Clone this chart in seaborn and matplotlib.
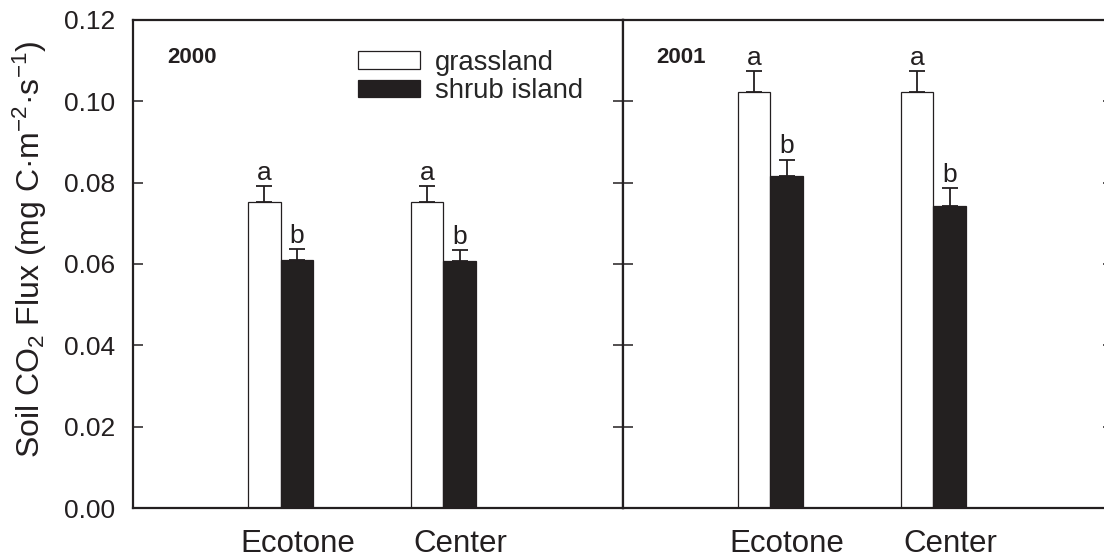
import matplotlib
matplotlib.use("Agg")
import matplotlib.pyplot as plt
from matplotlib.transforms import ScaledTranslation
import seaborn as sns
import pandas as pd

# values
sites = ["Ecotone", "Center"]
cover = ["grassland", "shrub island"]
years = ["2000", "2001"]

grass_2000 = [0.0753, 0.0753]
grass_2000_se = [0.0039, 0.0039]
shrub_2000 = [0.0610, 0.0607]
shrub_2000_se = [0.0026, 0.0027]

grass_2001 = [0.1024, 0.1024]
grass_2001_se = [0.0050, 0.0050]
shrub_2001 = [0.0817, 0.0742]
shrub_2001_se = [0.0039, 0.0045]

letters_grass = ["a", "a"]
letters_shrub = ["b", "b"]

ytick_vals = [0.00, 0.02, 0.04, 0.06, 0.08, 0.10, 0.12]

dark = "#231f20"

sns.set_style("ticks")
plt.rcParams["font.family"] = ["Liberation Sans", "DejaVu Sans"]
plt.rcParams["mathtext.fontset"] = "custom"
plt.rcParams["mathtext.rm"] = "Liberation Sans"
plt.rcParams["mathtext.it"] = "Liberation Sans:italic"
plt.rcParams["mathtext.bf"] = "Liberation Sans:bold"


def make_frame(grass, grass_se, shrub, shrub_se):
    rows = []
    for i, s in enumerate(sites):
        rows.append({"site": s, "cover": cover[0], "flux": grass[i], "se": grass_se[i], "let": letters_grass[i]})
        rows.append({"site": s, "cover": cover[1], "flux": shrub[i], "se": shrub_se[i], "let": letters_shrub[i]})
    return pd.DataFrame(rows)


frames = [
    make_frame(grass_2000, grass_2000_se, shrub_2000, shrub_2000_se),
    make_frame(grass_2001, grass_2001_se, shrub_2001, shrub_2001_se),
]

fig = plt.figure(figsize=(11.04, 5.58), dpi=100)
ax1 = fig.add_axes([0.1205, 0.0896, 0.4436, 0.8746])
ax2 = fig.add_axes([0.5641, 0.0896, 0.4436, 0.8746])

for ax, df, yr in zip([ax1, ax2], frames, years):
    sns.barplot(data=df, x="site", y="flux", hue="cover", order=sites, hue_order=cover,
                palette=["white", dark], width=0.4, gap=0, errorbar=None,
                edgecolor=dark, linewidth=0.9, ax=ax, legend=False)
    for cont, cv in zip(ax.containers, cover):
        sub = df[df["cover"] == cv].set_index("site").loc[sites]
        xs = [b.get_x() + b.get_width() / 2 for b in cont]
        hs = [b.get_height() for b in cont]
        errs = list(sub["se"])
        ax.errorbar(xs, hs, yerr=[[0] * len(errs), errs], fmt="none", ecolor=dark,
                    elinewidth=1.3, capsize=5.8, capthick=1.3, zorder=1)
        for x, h, e, lt in zip(xs, hs, errs, sub["let"]):
            ax.annotate(lt, (x, h + e), xytext=(0, 1.0), textcoords="offset points",
                        ha="center", va="bottom", fontsize=19, color=dark)
    ax.set_xlim(-0.905, 2.10)
    ax.set_ylim(0, 0.12)
    ax.set_yticks(ytick_vals)
    ax.set_xlabel("")
    ax.tick_params(axis="x", length=0, pad=15, labelsize=22.5, colors=dark)
    ax.tick_params(axis="y", direction="in", length=7, width=1.1, color=dark,
                   left=True, right=True, labelsize=19, pad=13, labelcolor=dark)
    # site names sit a little right of the group centre in the original
    shift = ScaledTranslation(0.17, 0, fig.dpi_scale_trans)
    for lab in ax.get_xticklabels():
        lab.set_transform(lab.get_transform() + shift)
    for sp in ax.spines.values():
        sp.set_visible(True)
        sp.set_linewidth(1.6)
        sp.set_color(dark)
    ax.text(0.069, 0.924, yr, transform=ax.transAxes, fontsize=16, fontweight="bold",
            color=dark, ha="left", va="center")

ax1.set_ylabel("Soil CO$_2$ Flux (mg C·m$^{-2}$·s$^{-1}$)", fontsize=23, color=dark)
ax1.yaxis.set_label_coords(-0.172, 0.529)
ax2.set_ylabel("")
ax2.tick_params(axis="y", labelleft=False)

handles = [plt.Rectangle((0, 0), 1, 1, facecolor="white", edgecolor=dark, linewidth=0.9),
           plt.Rectangle((0, 0), 1, 1, facecolor=dark, edgecolor=dark, linewidth=0.9)]
ax1.legend(handles, cover, loc="upper left", bbox_to_anchor=(0.459, 0.939), frameon=False,
           fontsize=19.8, handlelength=2.25, handleheight=0.58, handletextpad=0.55,
           labelspacing=0.1, borderaxespad=0, borderpad=0)

fig.savefig("out.png", dpi=100)
